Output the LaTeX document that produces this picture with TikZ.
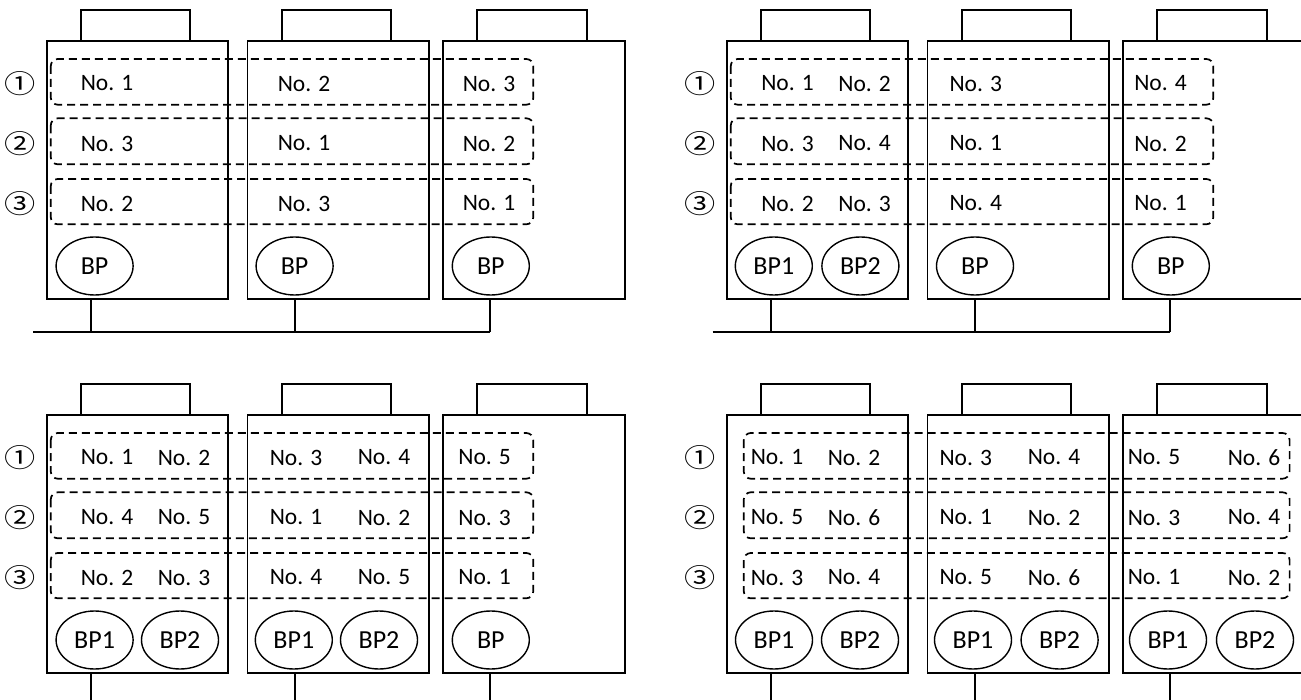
\documentclass[tikz,border=0pt]{standalone}
\usepackage{fontspec}
\setmainfont{Carlito}
\newfontfamily\symfont{Noto Sans CJK SC}
\usetikzlibrary{shapes.geometric}
\newcommand{\drawunits}[3]{%
  \foreach \cx [count=\i] in {137.5,338.4,534} {
    \node[unit] (#1u\i) at (\cx,170) {};
    \draw[capline] ([xshift=35pt]#1u\i.north west) -- ++(0,-29.7) -- ++(109.5,0) -- ++(0,29.7);
  }
  \foreach \ya/\yb [count=\i] in {59/104.7,118.3/164.3,179/224.3} {
    \draw[group] (#2,\ya) rectangle (#3,\yb);
  }
  \node[rownum] (#1n1) at (20.5,83.5) {①};
  \node[rownum] (#1n2) at (20.5,144) {②};
  \node[rownum] (#1n3) at (20.5,204) {③};
}
\newcommand{\rowtexts}[3]{%
  \foreach \xx/\tt [count=\i] in {#3} {
    \node[lbl] (#1r#2c\i) at (\xx,\ifcase#2\or83.5\or143.5\or203.5\fi) {\tt};
  }
}
\newcommand{\pumps}[2]{%
  \foreach \xx/\tt [count=\i] in {#2} {
    \node[pump] (#1p\i) at (\xx,266) {\tt};
  }
}
\newcommand{\drops}[1]{%
  \foreach \jx [count=\i] in {90.8,295,489.6} {
    \coordinate (#1j\i) at (\jx,332);
    \draw[wire] (#1j\i |- #1u\i.south) -- (#1j\i);
  }
}
\begin{document}
\begin{tikzpicture}[x=1pt,y=-1pt,
  unit/.style={draw,line width=1.9pt,rectangle,inner sep=0pt,minimum width=181.8pt,minimum height=258.6pt},
  capline/.style={line width=1.9pt},
  group/.style={line width=1.7pt,dash pattern=on 8pt off 5pt,rounded corners=7pt},
  pump/.style={draw,ellipse,line width=1.4pt,inner sep=0pt,minimum width=77pt,minimum height=58pt,font=\fontsize{26}{26}\selectfont},
  lbl/.style={font=\fontsize{23.5}{24}\selectfont,inner sep=0pt},
  rownum/.style={font=\symfont\fontsize{26}{26}\selectfont,inner sep=0pt,xscale=1.2},
  wire/.style={line width=1.9pt}]
\useasboundingbox (0,0) rectangle (1301,700);
\fill[white] (0,0) rectangle (1301,700);
\clip (0,0) rectangle (1301,700);

% ---------- panel A (top left)
\begin{scope}
  \drawunits{a}{50.8}{533.3}
  \rowtexts{a}{1}{107/No. 1,304/No. 2,489/No. 3}
  \rowtexts{a}{2}{107/No. 3,304/No. 1,489/No. 2}
  \rowtexts{a}{3}{107/No. 2,304/No. 3,489/No. 1}
  \pumps{a}{94.6/BP,294.6/BP,490.8/BP}
  \drops{a}
  \coordinate (ab0) at (33,332);
  \draw[wire] (ab0) -- (aj3);
\end{scope}

% ---------- panel B (top right)
\begin{scope}[shift={(680,0)}]
  \drawunits{b}{50.8}{533.3}
  \rowtexts{b}{1}{107.5/No. 1,184.6/No. 2,295.8/No. 3,480.5/No. 4}
  \rowtexts{b}{2}{107.5/No. 3,184.6/No. 4,295.8/No. 1,480.5/No. 2}
  \rowtexts{b}{3}{107.5/No. 2,184.6/No. 3,295.8/No. 4,480.5/No. 1}
  \pumps{b}{93.8/BP1,180.4/BP2,295/BP,490.8/BP}
  \drops{b}
  \coordinate (bb0) at (32.5,332);
  \draw[wire] (bb0) -- (bj3);
\end{scope}

% ---------- panel C (bottom left)
\begin{scope}[shift={(0,374)}]
  \drawunits{c}{50.8}{533.3}
  \rowtexts{c}{1}{107/No. 1,184/No. 2,296/No. 3,384/No. 4,484.6/No. 5}
  \rowtexts{c}{2}{107/No. 4,184/No. 5,296/No. 1,384/No. 2,484.6/No. 3}
  \rowtexts{c}{3}{107/No. 2,184/No. 3,296/No. 4,384/No. 5,484.6/No. 1}
  \pumps{c}{94.6/BP1,180/BP2,293.8/BP1,379/BP2,490.8/BP}
  \drops{c}
\end{scope}

% ---------- panel D (bottom right)
\begin{scope}[shift={(680,374)}]
  \drawunits{d}{63.8}{609.6}
  \rowtexts{d}{1}{97/No. 1,174/No. 2,285.8/No. 3,374/No. 4,474/No. 5,574/No. 6}
  \rowtexts{d}{2}{97/No. 5,174/No. 6,285.8/No. 1,374/No. 2,474/No. 3,574/No. 4}
  \rowtexts{d}{3}{97/No. 3,174/No. 4,285.8/No. 5,374/No. 6,474/No. 1,574/No. 2}
  \pumps{d}{94/BP1,180/BP2,293/BP1,379.6/BP2,488/BP1,575/BP2}
  \drops{d}
\end{scope}
\end{tikzpicture}
\end{document}
